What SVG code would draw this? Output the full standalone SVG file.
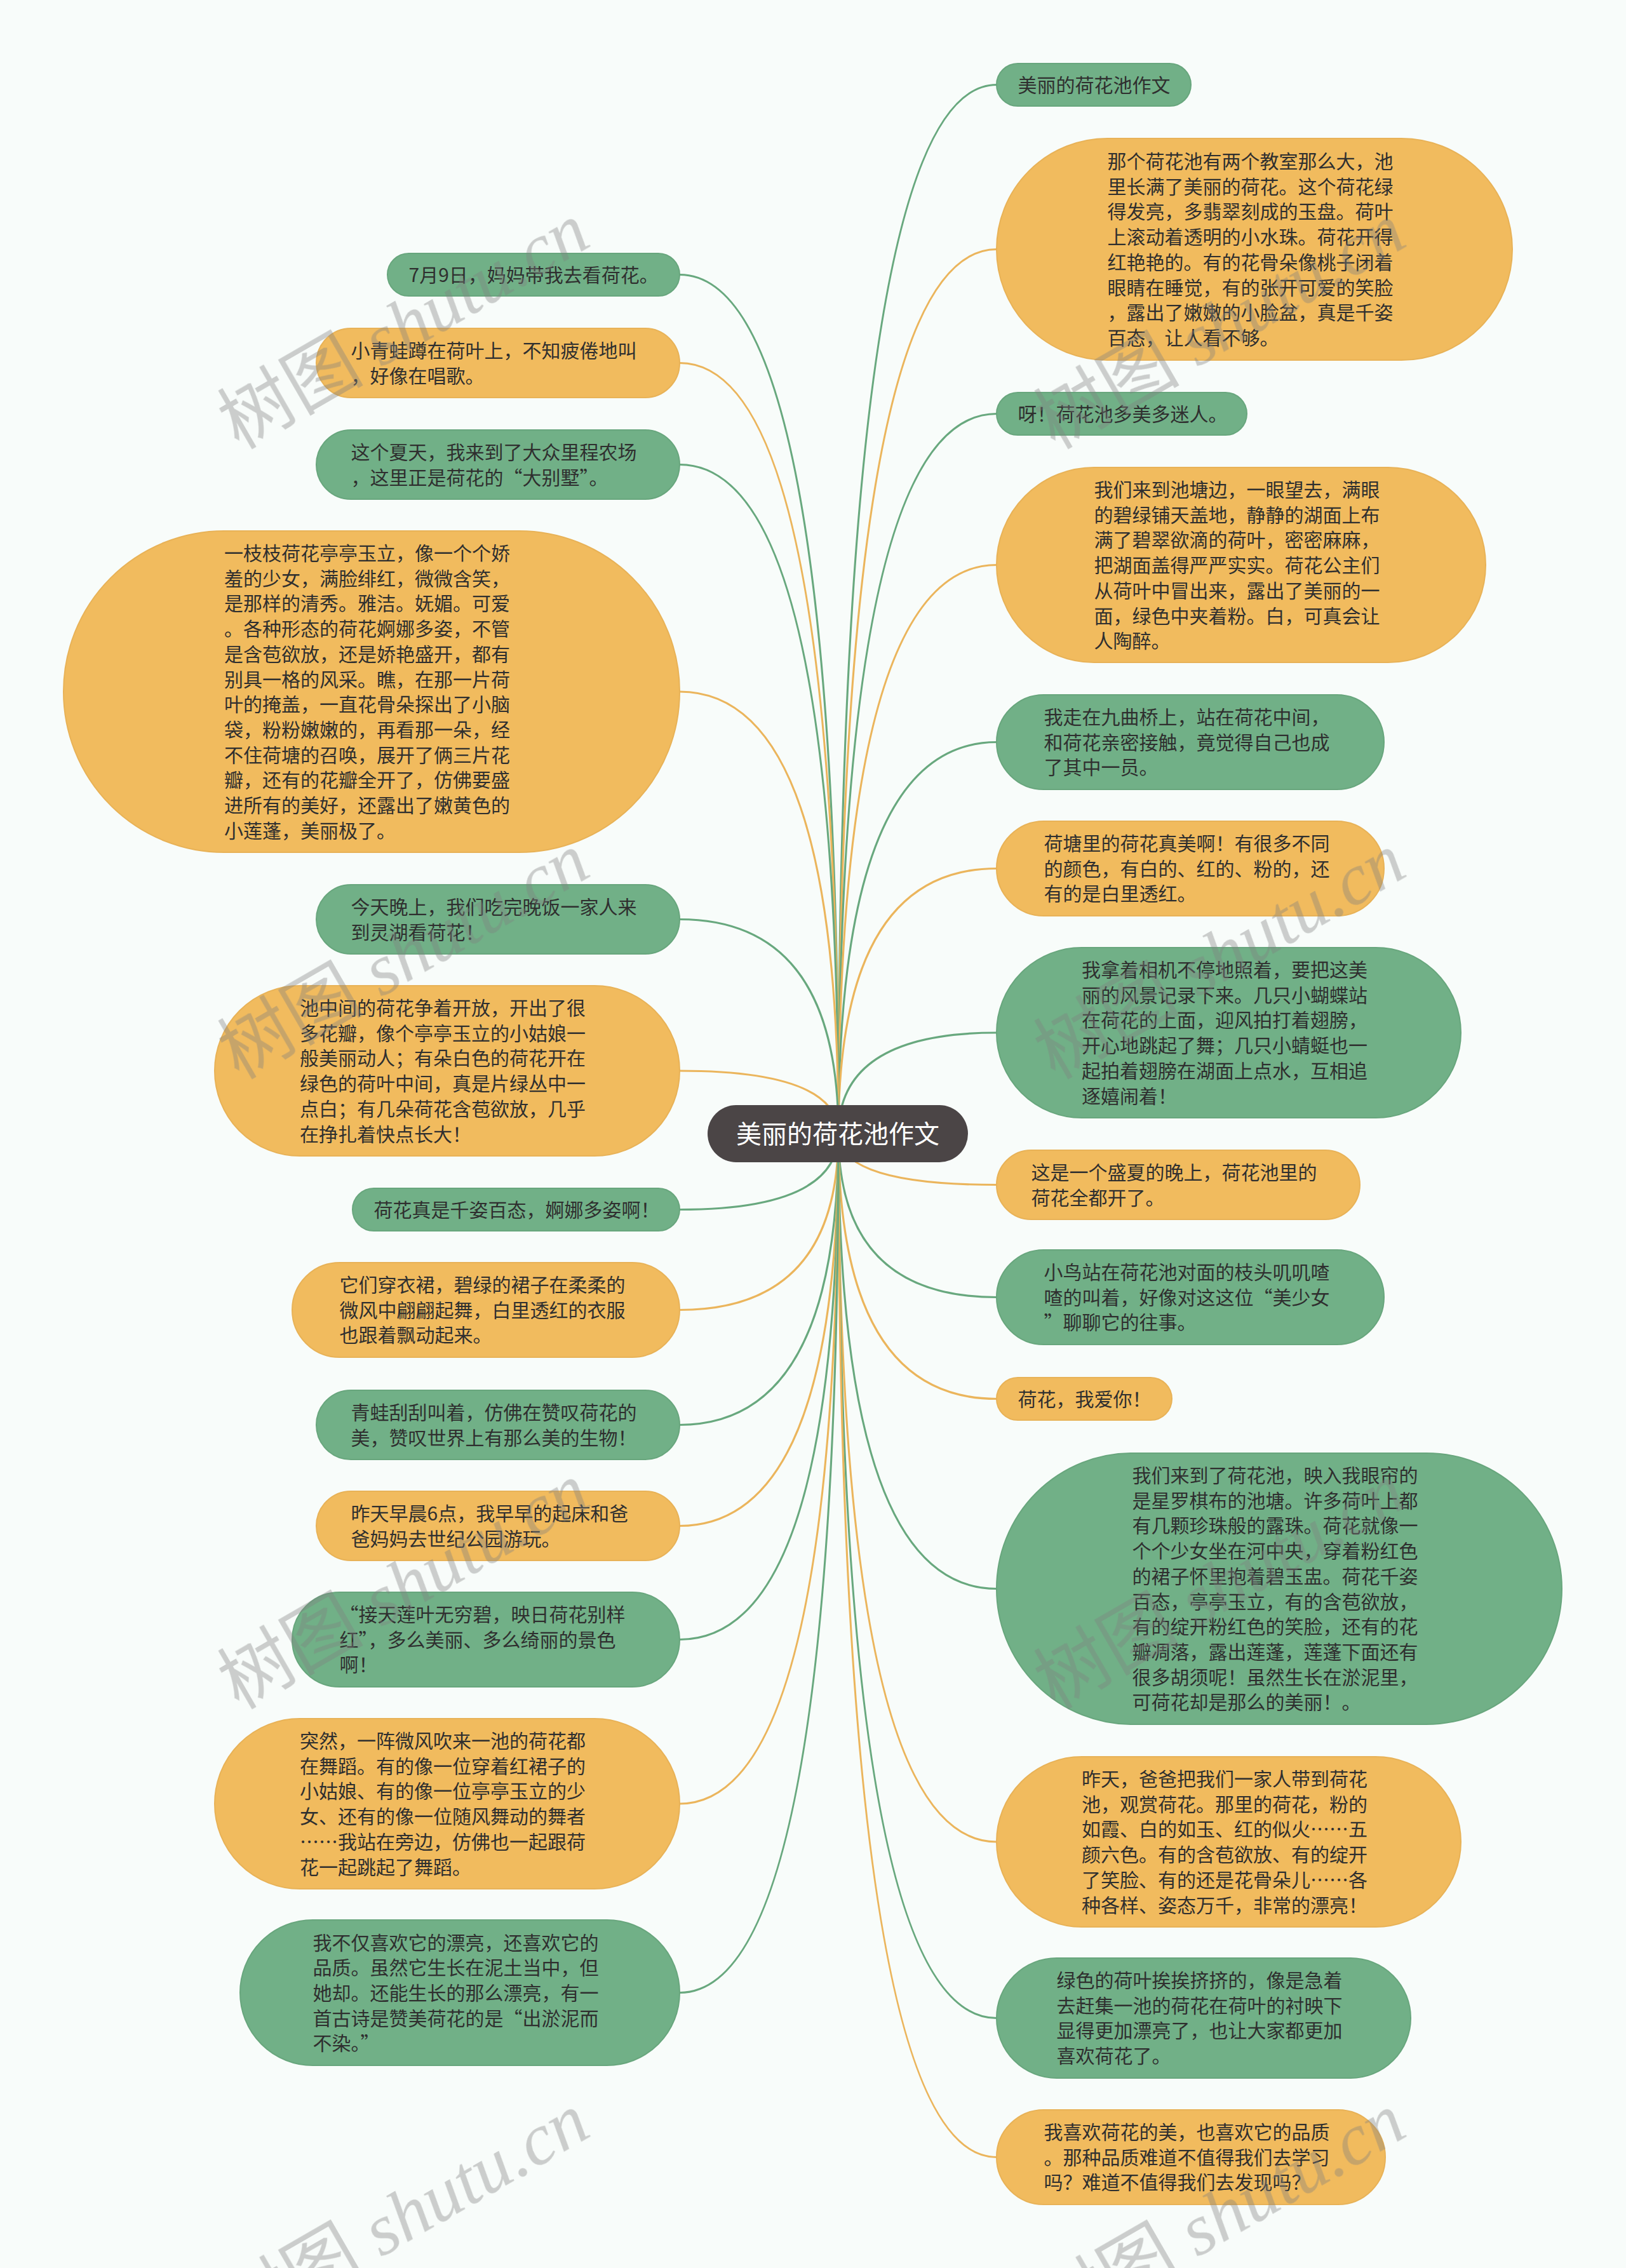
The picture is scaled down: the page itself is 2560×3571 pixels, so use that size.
<svg xmlns="http://www.w3.org/2000/svg" width="2560" height="3571" viewBox="0 0 2560 3571">
<style>
.g{fill:#71b087;stroke:#68a67d;stroke-width:2}
.o{fill:#f1bb5e;stroke:#e8b257;stroke-width:2}
.t{font-family:"Noto Sans CJK SC","Microsoft YaHei",sans-serif;font-size:30px;fill:#2f2f2f}
.c{fill:none;stroke-width:3.2}
.cg{stroke:#68a87e}
.co{stroke:#ebb55c}
.wm{font-size:115px;fill:#808080;opacity:0.38}
</style>
<rect x="0" y="0" width="2560" height="3571" fill="#f8fcfa"/>
<g id="connectors">
<path class="c cg" d="M1320 1785 Q1320 133.5 1569 133.5"/>
<path class="c co" d="M1320 1785 Q1320 392.5 1569 392.5"/>
<path class="c cg" d="M1320 1785 Q1320 651.5 1569 651.5"/>
<path class="c co" d="M1320 1785 Q1320 889.5 1569 889.5"/>
<path class="c cg" d="M1320 1785 Q1320 1168.5 1569 1168.5"/>
<path class="c co" d="M1320 1785 Q1320 1367.5 1569 1367.5"/>
<path class="c cg" d="M1320 1785 Q1320 1626 1569 1626"/>
<path class="c co" d="M1320 1785 Q1320 1865.5 1569 1865.5"/>
<path class="c cg" d="M1320 1785 Q1320 2042.5 1569 2042.5"/>
<path class="c co" d="M1320 1785 Q1320 2202.5 1569 2202.5"/>
<path class="c cg" d="M1320 1785 Q1320 2501.5 1569 2501.5"/>
<path class="c co" d="M1320 1785 Q1320 2900 1569 2900"/>
<path class="c cg" d="M1320 1785 Q1320 3177.5 1569 3177.5"/>
<path class="c co" d="M1320 1785 Q1320 3396.5 1569 3396.5"/>
<path class="c cg" d="M1320 1785 Q1320 432.5 1070 432.5"/>
<path class="c co" d="M1320 1785 Q1320 571.5 1070 571.5"/>
<path class="c cg" d="M1320 1785 Q1320 731.5 1070 731.5"/>
<path class="c co" d="M1320 1785 Q1320 1089 1070 1089"/>
<path class="c cg" d="M1320 1785 Q1320 1447.5 1070 1447.5"/>
<path class="c co" d="M1320 1785 Q1320 1686 1070 1686"/>
<path class="c cg" d="M1320 1785 Q1320 1904.5 1070 1904.5"/>
<path class="c co" d="M1320 1785 Q1320 2062.5 1070 2062.5"/>
<path class="c cg" d="M1320 1785 Q1320 2243.5 1070 2243.5"/>
<path class="c co" d="M1320 1785 Q1320 2402.5 1070 2402.5"/>
<path class="c cg" d="M1320 1785 Q1320 2581.5 1070 2581.5"/>
<path class="c co" d="M1320 1785 Q1320 2840 1070 2840"/>
<path class="c cg" d="M1320 1785 Q1320 3137.5 1070 3137.5"/>
</g>
<g id="root">
<rect x="1114" y="1740" width="410" height="90" rx="45" fill="#4b4546"/>
<text x="1319" y="1800" text-anchor="middle" style="font-family:'Noto Sans CJK SC',sans-serif;font-size:40px;fill:#ffffff">美丽的荷花池作文</text>
</g>
<g id="r1"><rect class="g" x="1569" y="100" width="306" height="67" rx="33.5"/>
<text class="t" x="1602.5" y="145">美丽的荷花池作文</text></g>
<g id="r2"><rect class="o" x="1569" y="218" width="812" height="349" rx="174.5"/>
<text class="t"><tspan x="1743.5" y="265">那个荷花池有两个教室那么大，池</tspan><tspan x="1743.5" dy="39.7">里长满了美丽的荷花。这个荷花绿</tspan><tspan x="1743.5" dy="39.7">得发亮，多翡翠刻成的玉盘。荷叶</tspan><tspan x="1743.5" dy="39.7">上滚动着透明的小水珠。荷花开得</tspan><tspan x="1743.5" dy="39.7">红艳艳的。有的花骨朵像桃子闭着</tspan><tspan x="1743.5" dy="39.7">眼睛在睡觉，有的张开可爱的笑脸</tspan><tspan x="1743.5" dy="39.7">，露出了嫩嫩的小脸盆，真是千姿</tspan><tspan x="1743.5" dy="39.7">百态，让人看不够。</tspan></text></g>
<g id="r3"><rect class="g" x="1569" y="618" width="394" height="67" rx="33.5"/>
<text class="t" x="1602.5" y="663">呀！荷花池多美多迷人。</text></g>
<g id="r4"><rect class="o" x="1569" y="736" width="770" height="307" rx="153.5"/>
<text class="t"><tspan x="1722.5" y="782">我们来到池塘边，一眼望去，满眼</tspan><tspan x="1722.5" dy="39.7">的碧绿铺天盖地，静静的湖面上布</tspan><tspan x="1722.5" dy="39.7">满了碧翠欲滴的荷叶，密密麻麻，</tspan><tspan x="1722.5" dy="39.7">把湖面盖得严严实实。荷花公主们</tspan><tspan x="1722.5" dy="39.7">从荷叶中冒出来，露出了美丽的一</tspan><tspan x="1722.5" dy="39.7">面，绿色中夹着粉。白，可真会让</tspan><tspan x="1722.5" dy="39.7">人陶醉。</tspan></text></g>
<g id="r5"><rect class="g" x="1569" y="1094" width="610" height="149" rx="74.5"/>
<text class="t"><tspan x="1643.5" y="1140">我走在九曲桥上，站在荷花中间，</tspan><tspan x="1643.5" dy="39.7">和荷花亲密接触，竟觉得自己也成</tspan><tspan x="1643.5" dy="39.7">了其中一员。</tspan></text></g>
<g id="r6"><rect class="o" x="1569" y="1293" width="610" height="149" rx="74.5"/>
<text class="t"><tspan x="1643.5" y="1339">荷塘里的荷花真美啊！有很多不同</tspan><tspan x="1643.5" dy="39.7">的颜色，有白的、红的、粉的，还</tspan><tspan x="1643.5" dy="39.7">有的是白里透红。</tspan></text></g>
<g id="r7"><rect class="g" x="1569" y="1492" width="731" height="268" rx="134"/>
<text class="t"><tspan x="1703" y="1538">我拿着相机不停地照着，要把这美</tspan><tspan x="1703" dy="39.7">丽的风景记录下来。几只小蝴蝶站</tspan><tspan x="1703" dy="39.7">在荷花的上面，迎风拍打着翅膀，</tspan><tspan x="1703" dy="39.7">开心地跳起了舞；几只小蜻蜓也一</tspan><tspan x="1703" dy="39.7">起拍着翅膀在湖面上点水，互相追</tspan><tspan x="1703" dy="39.7">逐嬉闹着！</tspan></text></g>
<g id="r8"><rect class="o" x="1569" y="1811" width="572" height="109" rx="54.5"/>
<text class="t"><tspan x="1623.5" y="1857">这是一个盛夏的晚上，荷花池里的</tspan><tspan x="1623.5" dy="39.7">荷花全都开了。</tspan></text></g>
<g id="r9"><rect class="g" x="1569" y="1968" width="610" height="149" rx="74.5"/>
<text class="t"><tspan x="1643.5" y="2014">小鸟站在荷花池对面的枝头叽叽喳</tspan><tspan x="1643.5" dy="39.7">喳的叫着，好像对这这位“美少女</tspan><tspan x="1643.5" dy="39.7">”聊聊它的往事。</tspan></text></g>
<g id="r10"><rect class="o" x="1569" y="2169" width="276" height="67" rx="33.5"/>
<text class="t" x="1602.5" y="2214">荷花，我爱你！</text></g>
<g id="r11"><rect class="g" x="1569" y="2288" width="890" height="427" rx="213.5"/>
<text class="t"><tspan x="1782.5" y="2334">我们来到了荷花池，映入我眼帘的</tspan><tspan x="1782.5" dy="39.7">是星罗棋布的池塘。许多荷叶上都</tspan><tspan x="1782.5" dy="39.7">有几颗珍珠般的露珠。荷花就像一</tspan><tspan x="1782.5" dy="39.7">个个少女坐在河中央，穿着粉红色</tspan><tspan x="1782.5" dy="39.7">的裙子怀里抱着碧玉盅。荷花千姿</tspan><tspan x="1782.5" dy="39.7">百态，亭亭玉立，有的含苞欲放，</tspan><tspan x="1782.5" dy="39.7">有的绽开粉红色的笑脸，还有的花</tspan><tspan x="1782.5" dy="39.7">瓣凋落，露出莲蓬，莲蓬下面还有</tspan><tspan x="1782.5" dy="39.7">很多胡须呢！虽然生长在淤泥里，</tspan><tspan x="1782.5" dy="39.7">可荷花却是那么的美丽！。</tspan></text></g>
<g id="r12"><rect class="o" x="1569" y="2766" width="731" height="268" rx="134"/>
<text class="t"><tspan x="1703" y="2812">昨天，爸爸把我们一家人带到荷花</tspan><tspan x="1703" dy="39.7">池，观赏荷花。那里的荷花，粉的</tspan><tspan x="1703" dy="39.7">如霞、白的如玉、红的似火……五</tspan><tspan x="1703" dy="39.7">颜六色。有的含苞欲放、有的绽开</tspan><tspan x="1703" dy="39.7">了笑脸、有的还是花骨朵儿……各</tspan><tspan x="1703" dy="39.7">种各样、姿态万千，非常的漂亮！</tspan></text></g>
<g id="r13"><rect class="g" x="1569" y="3083" width="652" height="189" rx="94.5"/>
<text class="t"><tspan x="1663.5" y="3129">绿色的荷叶挨挨挤挤的，像是急着</tspan><tspan x="1663.5" dy="39.7">去赶集一池的荷花在荷叶的衬映下</tspan><tspan x="1663.5" dy="39.7">显得更加漂亮了，也让大家都更加</tspan><tspan x="1663.5" dy="39.7">喜欢荷花了。</tspan></text></g>
<g id="r14"><rect class="o" x="1569" y="3322" width="612" height="149" rx="74.5"/>
<text class="t"><tspan x="1643.5" y="3368">我喜欢荷花的美，也喜欢它的品质</tspan><tspan x="1643.5" dy="39.7">。那种品质难道不值得我们去学习</tspan><tspan x="1643.5" dy="39.7">吗？难道不值得我们去发现吗？</tspan></text></g>
<g id="l1"><rect class="g" x="610" y="399" width="460" height="67" rx="33.5"/>
<text class="t" x="643.5" y="444">7月9日，妈妈带我去看荷花。</text></g>
<g id="l2"><rect class="o" x="498" y="517" width="572" height="109" rx="54.5"/>
<text class="t"><tspan x="552.5" y="563">小青蛙蹲在荷叶上，不知疲倦地叫</tspan><tspan x="552.5" dy="39.7">，好像在唱歌。</tspan></text></g>
<g id="l3"><rect class="g" x="498" y="677" width="572" height="109" rx="54.5"/>
<text class="t"><tspan x="552.5" y="723">这个夏天，我来到了大众里程农场</tspan><tspan x="552.5" dy="39.7">，这里正是荷花的“大别墅”。</tspan></text></g>
<g id="l4"><rect class="o" x="100" y="836" width="970" height="506" rx="253"/>
<text class="t"><tspan x="353" y="882">一枝枝荷花亭亭玉立，像一个个娇</tspan><tspan x="353" dy="39.7">羞的少女，满脸绯红，微微含笑，</tspan><tspan x="353" dy="39.7">是那样的清秀。雅洁。妩媚。可爱</tspan><tspan x="353" dy="39.7">。各种形态的荷花婀娜多姿，不管</tspan><tspan x="353" dy="39.7">是含苞欲放，还是娇艳盛开，都有</tspan><tspan x="353" dy="39.7">别具一格的风采。瞧，在那一片荷</tspan><tspan x="353" dy="39.7">叶的掩盖，一直花骨朵探出了小脑</tspan><tspan x="353" dy="39.7">袋，粉粉嫩嫩的，再看那一朵，经</tspan><tspan x="353" dy="39.7">不住荷塘的召唤，展开了俩三片花</tspan><tspan x="353" dy="39.7">瓣，还有的花瓣全开了，仿佛要盛</tspan><tspan x="353" dy="39.7">进所有的美好，还露出了嫩黄色的</tspan><tspan x="353" dy="39.7">小莲蓬，美丽极了。</tspan></text></g>
<g id="l5"><rect class="g" x="498" y="1393" width="572" height="109" rx="54.5"/>
<text class="t"><tspan x="552.5" y="1439">今天晚上，我们吃完晚饭一家人来</tspan><tspan x="552.5" dy="39.7">到灵湖看荷花！</tspan></text></g>
<g id="l6"><rect class="o" x="338" y="1552" width="732" height="268" rx="134"/>
<text class="t"><tspan x="472" y="1598">池中间的荷花争着开放，开出了很</tspan><tspan x="472" dy="39.7">多花瓣，像个亭亭玉立的小姑娘一</tspan><tspan x="472" dy="39.7">般美丽动人；有朵白色的荷花开在</tspan><tspan x="472" dy="39.7">绿色的荷叶中间，真是片绿丛中一</tspan><tspan x="472" dy="39.7">点白；有几朵荷花含苞欲放，几乎</tspan><tspan x="472" dy="39.7">在挣扎着快点长大！</tspan></text></g>
<g id="l7"><rect class="g" x="555" y="1871" width="515" height="67" rx="33.5"/>
<text class="t" x="588.5" y="1916">荷花真是千姿百态，婀娜多姿啊！</text></g>
<g id="l8"><rect class="o" x="460" y="1988" width="610" height="149" rx="74.5"/>
<text class="t"><tspan x="534.5" y="2034">它们穿衣裙，碧绿的裙子在柔柔的</tspan><tspan x="534.5" dy="39.7">微风中翩翩起舞，白里透红的衣服</tspan><tspan x="534.5" dy="39.7">也跟着飘动起来。</tspan></text></g>
<g id="l9"><rect class="g" x="498" y="2189" width="572" height="109" rx="54.5"/>
<text class="t"><tspan x="552.5" y="2235">青蛙刮刮叫着，仿佛在赞叹荷花的</tspan><tspan x="552.5" dy="39.7">美，赞叹世界上有那么美的生物！</tspan></text></g>
<g id="l10"><rect class="o" x="498" y="2348" width="572" height="109" rx="54.5"/>
<text class="t"><tspan x="552.5" y="2394">昨天早晨6点，我早早的起床和爸</tspan><tspan x="552.5" dy="39.7">爸妈妈去世纪公园游玩。</tspan></text></g>
<g id="l11"><rect class="g" x="460" y="2507" width="610" height="149" rx="74.5"/>
<text class="t"><tspan x="534.5" y="2553">“接天莲叶无穷碧，映日荷花别样</tspan><tspan x="534.5" dy="39.7">红”，多么美丽、多么绮丽的景色</tspan><tspan x="534.5" dy="39.7">啊！</tspan></text></g>
<g id="l12"><rect class="o" x="338" y="2706" width="732" height="268" rx="134"/>
<text class="t"><tspan x="472" y="2752">突然，一阵微风吹来一池的荷花都</tspan><tspan x="472" dy="39.7">在舞蹈。有的像一位穿着红裙子的</tspan><tspan x="472" dy="39.7">小姑娘、有的像一位亭亭玉立的少</tspan><tspan x="472" dy="39.7">女、还有的像一位随风舞动的舞者</tspan><tspan x="472" dy="39.7">……我站在旁边，仿佛也一起跟荷</tspan><tspan x="472" dy="39.7">花一起跳起了舞蹈。</tspan></text></g>
<g id="l13"><rect class="g" x="378" y="3023" width="692" height="229" rx="114.5"/>
<text class="t"><tspan x="492.5" y="3069.5">我不仅喜欢它的漂亮，还喜欢它的</tspan><tspan x="492.5" dy="39.7">品质。虽然它生长在泥土当中，但</tspan><tspan x="492.5" dy="39.7">她却。还能生长的那么漂亮，有一</tspan><tspan x="492.5" dy="39.7">首古诗是赞美荷花的是“出淤泥而</tspan><tspan x="492.5" dy="39.7">不染。”</tspan></text></g>
<g id="watermarks" class="wm" text-anchor="middle">
<text transform="translate(655 547) rotate(-30)"><tspan style="font-family:'Noto Sans CJK SC',sans-serif">树图</tspan><tspan style="font-family:'Liberation Serif',serif;font-style:italic"> shutu.cn</tspan></text>
<text transform="translate(1940 547) rotate(-30)"><tspan style="font-family:'Noto Sans CJK SC',sans-serif">树图</tspan><tspan style="font-family:'Liberation Serif',serif;font-style:italic"> shutu.cn</tspan></text>
<text transform="translate(655 1539) rotate(-30)"><tspan style="font-family:'Noto Sans CJK SC',sans-serif">树图</tspan><tspan style="font-family:'Liberation Serif',serif;font-style:italic"> shutu.cn</tspan></text>
<text transform="translate(1940 1539) rotate(-30)"><tspan style="font-family:'Noto Sans CJK SC',sans-serif">树图</tspan><tspan style="font-family:'Liberation Serif',serif;font-style:italic"> shutu.cn</tspan></text>
<text transform="translate(655 2531) rotate(-30)"><tspan style="font-family:'Noto Sans CJK SC',sans-serif">树图</tspan><tspan style="font-family:'Liberation Serif',serif;font-style:italic"> shutu.cn</tspan></text>
<text transform="translate(1940 2531) rotate(-30)"><tspan style="font-family:'Noto Sans CJK SC',sans-serif">树图</tspan><tspan style="font-family:'Liberation Serif',serif;font-style:italic"> shutu.cn</tspan></text>
<text transform="translate(655 3523) rotate(-30)"><tspan style="font-family:'Noto Sans CJK SC',sans-serif">树图</tspan><tspan style="font-family:'Liberation Serif',serif;font-style:italic"> shutu.cn</tspan></text>
<text transform="translate(1940 3523) rotate(-30)"><tspan style="font-family:'Noto Sans CJK SC',sans-serif">树图</tspan><tspan style="font-family:'Liberation Serif',serif;font-style:italic"> shutu.cn</tspan></text>
</g>
</svg>
